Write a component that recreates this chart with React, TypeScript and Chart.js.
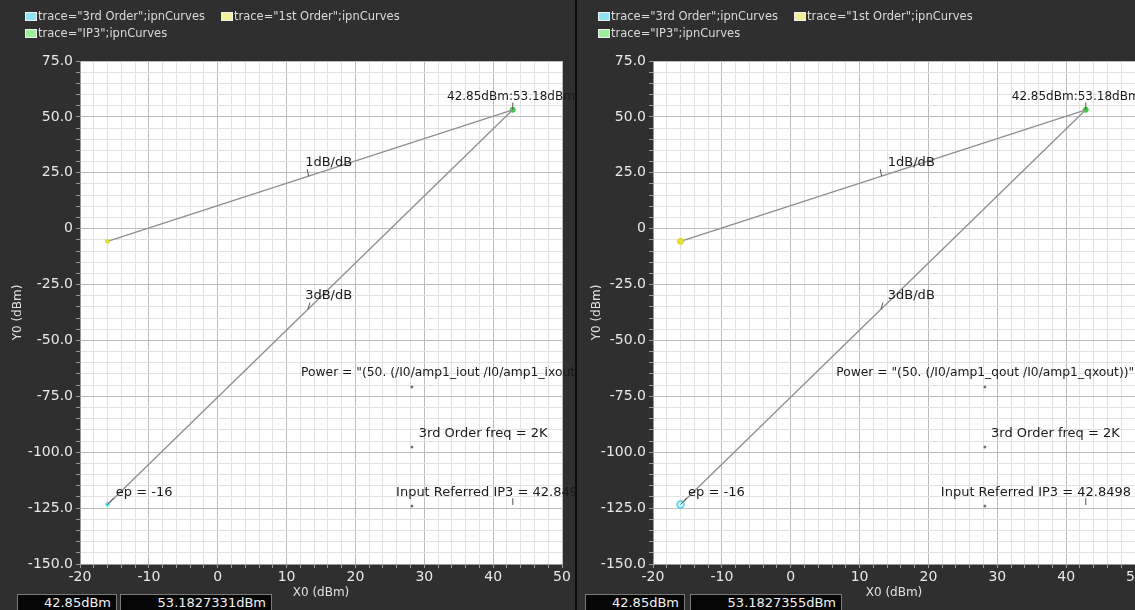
import React, { useEffect, useRef } from 'react';
import { Chart, registerables } from 'chart.js';

Chart.register(...registerables);

// ---- axis ranges / ticks ----
const X_RANGE = [-20, 50];
const Y_RANGE = [-150, 75];
const X_MINOR = 2;
const X_MAJOR = 10;
const Y_MINOR = 5;
const Y_MAJOR = 25;

// ---- series ----
const sweepX = [-16, 42.85];
const firstOrderY = [-5.67, 53.18];
const thirdOrderY = [-123.37, 53.18];
const ip3X = [42.85];
const ip3Y = [53.18];
const anchorX = [28.2, 28.2, 28.2];
const anchorY = [-70.8, -97.7, -124.1];

// ---- legend / readouts ----
const legendLabels = ['trace="3rd Order";ipnCurves', 'trace="1st Order";ipnCurves', 'trace="IP3";ipnCurves'];
const legendColors = ['#8fe3f2', '#f2ee9a', '#9cf09c'];
const readoutLeft = ['42.85dBm', '53.1827331dBm'];
const readoutRight = ['42.85dBm', '53.1827355dBm'];

// ---- annotation texts (anchored in data units) ----
const annTexts = [
  '42.85dBm:53.18dBm',
  '1dB/dB',
  '3dB/dB',
  'POWER',
  '3rd Order freq = 2K',
  'Input Referred IP3 = 42.8498',
  'ep = -16',
];
const annSizes = [12, 13, 13, 12.3, 13, 13, 13];
const powerLeft = 'Power = "(50. (/I0/amp1_iout /I0/amp1_ixout))"';
const powerRight = 'Power = "(50. (/I0/amp1_qout /I0/amp1_qxout))"';
const annLeftX = [33.3, 12.7, 12.7, 12.1, 29.2, 25.9, -14.8];
const annLeftY = [58.9, 29.4, -30.1, -64.6, -91.8, -118.2, -118.2];
const annRightX = [32.1, 14.1, 14.1, 6.6, 29.1, 21.8, -14.9];
const annRightY = [58.9, 29.4, -30.1, -64.6, -91.8, -118.2, -118.2];

// leader segments [x1, y1, x2, y2] in data units
const leaders = [
  [42.85, 53.18, 42.85, 56.4],
  [-16, -123.37, -15.1, -120.4],
  [13.2, 23.5, 13.0, 26.6],
  [13.1, -36.1, 13.4, -33.0],
  [42.85, -120.6, 42.85, -123.6],
];

const FONT = '"DejaVu Sans", sans-serif';
const BG = '#2f2f2f';

type PanelCfg = {
  left: number;
  width: number;
  yWidth: number;
  padRight: number;
  yTitlePad: number;
  startRing: boolean;
  power: string;
  annX: number[];
  annY: number[];
};

const panels: PanelCfg[] = [
  { left: 0, width: 575, yWidth: 80, padRight: 13, yTitlePad: 11, startRing: false, power: powerLeft, annX: annLeftX, annY: annLeftY },
  { left: 577, width: 600, yWidth: 76, padRight: 42, yTitlePad: 13, startRing: true, power: powerRight, annX: annRightX, annY: annRightY },
];

function isMult(v: number, m: number) {
  return Math.abs(Math.round(v) % m) === 0;
}

function makeChart(canvas: HTMLCanvasElement, cfg: PanelCfg) {
  const toPts = (xs: number[], ys: number[]) => xs.map((x, i) => ({ x, y: ys[i] }));

  const bgPlugin = {
    id: 'bg',
    beforeDraw(chart: any) {
      const { ctx, chartArea: a } = chart;
      ctx.save();
      ctx.fillStyle = BG;
      ctx.fillRect(0, 0, chart.width, chart.height);
      ctx.fillStyle = '#ffffff';
      ctx.fillRect(a.left, a.top, a.right - a.left, a.bottom - a.top);
      ctx.restore();
    },
  };

  const annPlugin = {
    id: 'ann',
    afterDatasetsDraw(chart: any) {
      const { ctx } = chart;
      const xs = chart.scales.x;
      const ys = chart.scales.y;
      ctx.save();
      ctx.strokeStyle = '#555';
      ctx.lineWidth = 1;
      leaders.forEach((l) => {
        ctx.beginPath();
        ctx.moveTo(xs.getPixelForValue(l[0]), ys.getPixelForValue(l[1]));
        ctx.lineTo(xs.getPixelForValue(l[2]), ys.getPixelForValue(l[3]));
        ctx.stroke();
      });
      ctx.fillStyle = '#1a1a1a';
      ctx.textBaseline = 'middle';
      ctx.textAlign = 'left';
      annTexts.forEach((t, i) => {
        const text = t === 'POWER' ? cfg.power : t;
        ctx.font = annSizes[i] + 'px ' + FONT;
        ctx.fillText(text, xs.getPixelForValue(cfg.annX[i]), ys.getPixelForValue(cfg.annY[i]));
      });
      ctx.restore();
    },
  };

  const lineColor = '#8e8e8e';

  return new Chart(canvas, {
    type: 'scatter',
    data: {
      datasets: [
        {
          label: '3rd Order',
          data: toPts(sweepX, thirdOrderY),
          showLine: true,
          borderColor: lineColor,
          borderWidth: 1.3,
          pointRadius: [cfg.startRing ? 3.5 : 1.8, 0],
          pointBorderWidth: cfg.startRing ? 1.5 : 1,
          pointBackgroundColor: cfg.startRing ? '#c8f4fb' : '#5fd8ec',
          pointBorderColor: '#4fd2e8',
        },
        {
          label: '1st Order',
          data: toPts(sweepX, firstOrderY),
          showLine: true,
          borderColor: lineColor,
          borderWidth: 1.3,
          pointRadius: [cfg.startRing ? 2.8 : 1.8, 0],
          pointBackgroundColor: '#e8e23a',
          pointBorderColor: '#e0d820',
        },
        {
          label: 'IP3',
          data: toPts(ip3X, ip3Y),
          pointRadius: 2.5,
          pointBackgroundColor: '#3ee03e',
          pointBorderColor: '#30c830',
        },
        {
          label: 'anchors',
          data: toPts(anchorX, anchorY),
          pointRadius: 1,
          pointBackgroundColor: '#666',
          pointBorderColor: '#666',
        },
      ],
    },
    options: {
      animation: false,
      responsive: false,
      devicePixelRatio: 1,
      layout: { padding: { top: 61, right: cfg.padRight, left: 0, bottom: 0 }, autoPadding: false },
      plugins: { legend: { display: false }, tooltip: { enabled: false } },
      scales: {
        x: {
          type: 'linear',
          min: X_RANGE[0],
          max: X_RANGE[1],
          afterFit: (s: any) => {
            s.height = 46;
          },
          ticks: {
            stepSize: X_MINOR,
            autoSkip: false,
            maxRotation: 0,
            maxTicksLimit: 200,
            padding: 1,
            color: '#e8e8e8',
            font: { family: FONT, size: 14 },
            callback: (v: any) => (isMult(Number(v), X_MAJOR) ? String(v) : ''),
          },
          grid: {
            color: (c: any) => (c.tick && isMult(c.tick.value, X_MAJOR) ? '#bdbdbd' : '#e2e2e2'),
            tickColor: '#9a9a9a',
            tickLength: 4,
            lineWidth: 1,
          },
          border: { display: true, color: '#9a9a9a' },
          title: {
            display: true,
            text: 'X0 (dBm)',
            color: '#e0e0e0',
            font: { family: FONT, size: 12 },
            padding: { top: 0, bottom: 10 },
          },
        },
        y: {
          type: 'linear',
          min: Y_RANGE[0],
          max: Y_RANGE[1],
          afterFit: (s: any) => {
            s.width = cfg.yWidth;
          },
          ticks: {
            stepSize: Y_MINOR,
            autoSkip: false,
            maxTicksLimit: 200,
            padding: 3,
            color: '#e8e8e8',
            font: { family: FONT, size: 14 },
            callback: (v: any) => {
              const n = Number(v);
              if (!isMult(n, Y_MAJOR)) return '';
              return n === 0 ? '0' : n.toFixed(1);
            },
          },
          grid: {
            color: (c: any) => (c.tick && isMult(c.tick.value, Y_MAJOR) ? '#bdbdbd' : '#e2e2e2'),
            tickColor: '#9a9a9a',
            tickLength: 4,
            lineWidth: 1,
          },
          border: { display: true, color: '#9a9a9a' },
          title: {
            display: true,
            text: 'Y0 (dBm)',
            color: '#e0e0e0',
            font: { family: FONT, size: 12 },
            padding: { top: cfg.yTitlePad, bottom: 0 },
          },
        },
      },
    },
    plugins: [bgPlugin, annPlugin],
  } as any);
}

function Panel({ cfg, readout, legendLeft }: { cfg: PanelCfg; readout: string[]; legendLeft: number }) {
  const ref = useRef<HTMLCanvasElement | null>(null);
  useEffect(() => {
    if (!ref.current) return;
    const ch = makeChart(ref.current, cfg);
    return () => ch.destroy();
  }, [cfg]);

  const legendPos = [
    [legendLeft, 9],
    [legendLeft + 196, 9],
    [legendLeft, 26],
  ];
  const boxStyle = (l: number, w: number): React.CSSProperties => ({
    position: 'absolute',
    left: l,
    top: 594,
    width: w,
    height: 18,
    boxSizing: 'border-box',
    background: '#060606',
    border: '1px solid #7a7a7a',
    color: '#f2f2f2',
    font: '13px ' + FONT,
    textAlign: 'right',
    lineHeight: '15px',
    paddingRight: 5,
    whiteSpace: 'nowrap',
  });

  return (
    <div style={{ position: 'absolute', left: cfg.left, top: 0, width: cfg.width, height: 610 }}>
      <canvas ref={ref} width={cfg.width} height={610} style={{ position: 'absolute', left: 0, top: 0, width: cfg.width, height: 610 }} />
      {legendLabels.map((t, i) => (
        <div
          key={t}
          style={{
            position: 'absolute',
            left: legendPos[i][0],
            top: legendPos[i][1],
            display: 'flex',
            alignItems: 'center',
            color: '#dadada',
            font: '11.5px ' + FONT,
            lineHeight: '14px',
            whiteSpace: 'nowrap',
          }}
        >
          <span
            style={{
              display: 'inline-block',
              width: 10,
              height: 7,
              background: legendColors[i],
              border: '1px solid #f0f0f0',
              marginRight: 1,
            }}
          />
          {t}
        </div>
      ))}
      <div style={boxStyle(cfg.left === 0 ? 17 : 8, 100)}>{readout[0]}</div>
      <div style={boxStyle(cfg.left === 0 ? 120 : 113, 152)}>{readout[1]}</div>
    </div>
  );
}

export default function App() {
  return (
    <div
      style={{
        position: 'fixed',
        left: 0,
        top: 0,
        width: 1135,
        height: 610,
        overflow: 'hidden',
        background: BG,
      }}
    >
      <Panel cfg={panels[0]} readout={readoutLeft} legendLeft={25} />
      <div style={{ position: 'absolute', left: 575, top: 0, width: 2, height: 610, background: '#0c0c0c' }} />
      <Panel cfg={panels[1]} readout={readoutRight} legendLeft={21} />
    </div>
  );
}
